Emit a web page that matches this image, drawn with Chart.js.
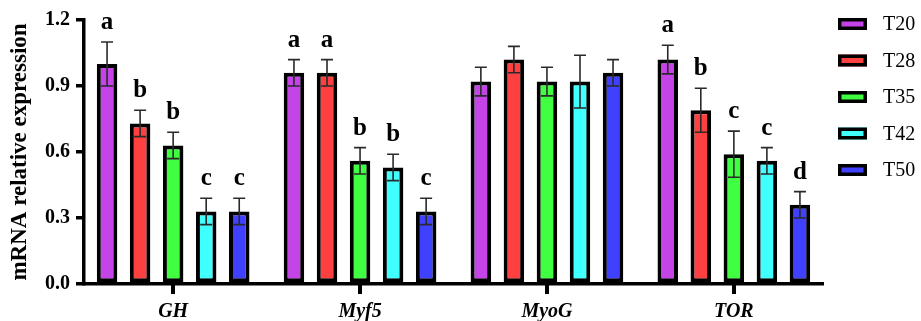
<!DOCTYPE html>
<html>
<head>
<meta charset="utf-8">
<script src="https://cdn.jsdelivr.net/npm/chart.js@4"></script>
<style>
  html, body { margin: 0; padding: 0; background: #fff; }
  #wrap { width: 921px; height: 321px; }
</style>
</head>
<body>
<div id="wrap"><canvas id="chart" width="921" height="321"></canvas></div>
<script>
// Genes and groups
const genes = ['GH', 'Myf5', 'MyoG', 'TOR'];
const groups = ['T20', 'T28', 'T35', 'T42', 'T50'];
const yTicks = [0, 0.3, 0.6, 0.9, 1.2];

// Mean relative expression per group
const t20 = [1.00, 0.96, 0.92, 1.02];
const t28 = [0.73, 0.96, 1.02, 0.79];
const t35 = [0.63, 0.56, 0.92, 0.59];
const t42 = [0.33, 0.53, 0.92, 0.56];
const t50 = [0.33, 0.33, 0.96, 0.36];

// Error (SD) per group
const err20 = [0.10, 0.06, 0.065, 0.065];
const err28 = [0.06, 0.06, 0.06, 0.10];
const err35 = [0.06, 0.06, 0.065, 0.105];
const err42 = [0.06, 0.06, 0.12, 0.06];
const err50 = [0.06, 0.06, 0.06, 0.06];

// Significance letters
const sig20 = ['a', 'a', '', 'a'];
const sig28 = ['b', 'a', '', 'b'];
const sig35 = ['b', 'b', '', 'c'];
const sig42 = ['c', 'b', '', 'c'];
const sig50 = ['c', 'c', '', 'd'];

const colors = ['#C444E8', '#FF4040', '#40FF40', '#40FFFF', '#4040FF'];
const serif = "'Liberation Serif', 'Times New Roman', serif";

const values = [t20, t28, t35, t42, t50];
const errors = [err20, err28, err35, err42, err50];
const letters = [sig20, sig28, sig35, sig42, sig50];

// Error bars + letters on top of bars
const errorBars = {
    id: 'errorBars',
    afterDatasetsDraw(chart) {
        const ctx = chart.ctx;
        const y = chart.scales.y;
        chart.data.datasets.forEach((ds, i) => {
            const meta = chart.getDatasetMeta(i);
            meta.data.forEach((bar, j) => {
                const v = values[i][j];
                const e = errors[i][j];
                const top = y.getPixelForValue(v + e);
                const bot = y.getPixelForValue(v - e);
                ctx.save();
                ctx.strokeStyle = '#2a2a2a';
                ctx.lineWidth = 1.6;
                ctx.beginPath();
                ctx.moveTo(bar.x, top);
                ctx.lineTo(bar.x, bot);
                ctx.moveTo(bar.x - 6, top);
                ctx.lineTo(bar.x + 6, top);
                ctx.moveTo(bar.x - 6, bot);
                ctx.lineTo(bar.x + 6, bot);
                ctx.stroke();
                if (letters[i][j]) {
                    ctx.fillStyle = '#000';
                    ctx.font = 'bold 25px ' + serif;
                    ctx.textAlign = 'center';
                    ctx.textBaseline = 'alphabetic';
                    ctx.fillText(letters[i][j], bar.x, top - 13);
                }
                ctx.restore();
            });
        });
    }
};

// Legend drawn at the right, tick marks under the gene names
const sideLegend = {
    id: 'sideLegend',
    afterDraw(chart) {
        const ctx = chart.ctx;
        const x = chart.scales.x;
        const base = chart.chartArea.bottom;
        ctx.save();
        ctx.fillStyle = '#000';
        genes.forEach((g, j) => {
            const px = x.getPixelForValue(j);
            ctx.fillRect(Math.round(px) - 2, base, 4, 10);
        });
        ctx.restore();
        chart.data.datasets.forEach((ds, i) => {
            const cy = 24 + i * 36.5;
            ctx.save();
            ctx.fillStyle = ds.backgroundColor;
            ctx.fillRect(838, cy - 6, 29, 12);
            ctx.strokeStyle = '#000';
            ctx.lineWidth = 3.5;
            ctx.strokeRect(839.75, cy - 4.25, 25.5, 8.5);
            ctx.fillStyle = '#000';
            ctx.font = '20px ' + serif;
            ctx.textAlign = 'left';
            ctx.textBaseline = 'middle';
            ctx.fillText(ds.label, 883, cy + 1);
            ctx.restore();
        });
    }
};

new Chart(document.getElementById('chart'), {
    type: 'bar',
    data: {
        datasets: groups.map((g, i) => ({
            label: g,
            data: values[i].map((v, j) => ({ x: j, y: v })),
            backgroundColor: colors[i],
            borderColor: '#000',
            borderWidth: 4,
            borderSkipped: false,
            barPercentage: 0.62,
            categoryPercentage: 0.884
        }))
    },
    options: {
        responsive: false,
        animation: false,
        layout: { padding: { top: 20, right: 98, left: 0, bottom: 0 } },
        plugins: {
            legend: { display: false },
            tooltip: { enabled: false }
        },
        scales: {
            x: {
                type: 'linear',
                offset: false,
                min: -0.477,
                max: 3.477,
                afterBuildTicks: s => { s.ticks = genes.map((g, j) => ({ value: j })); },
                grid: { display: false, drawTicks: false },
                border: { display: true, color: '#000', width: 3.5 },
                ticks: {
                    color: '#000',
                    padding: 16,
                    font: { family: serif, size: 20, weight: 'bold', style: 'italic' },
                    callback: v => genes[v]
                },
                afterFit: s => { s.height = 37; }
            },
            y: {
                min: 0,
                max: 1.2,
                afterBuildTicks: s => { s.ticks = yTicks.map(v => ({ value: v })); },
                grid: {
                    drawOnChartArea: false,
                    drawTicks: true,
                    tickLength: 8,
                    color: '#000',
                    lineWidth: 3.5
                },
                border: { display: true, color: '#000', width: 3.5 },
                ticks: {
                    color: '#000',
                    padding: 6,
                    font: { family: serif, size: 20, weight: 'bold' },
                    callback: v => v.toFixed(1)
                },
                title: {
                    display: true,
                    text: 'mRNA relative expression',
                    color: '#000',
                    padding: { top: 6, bottom: 0 },
                    font: { family: serif, size: 23, weight: 'bold' }
                },
                afterFit: s => { s.width = 84; }
            }
        }
    },
    plugins: [errorBars, sideLegend]
});
</script>
</body>
</html>
